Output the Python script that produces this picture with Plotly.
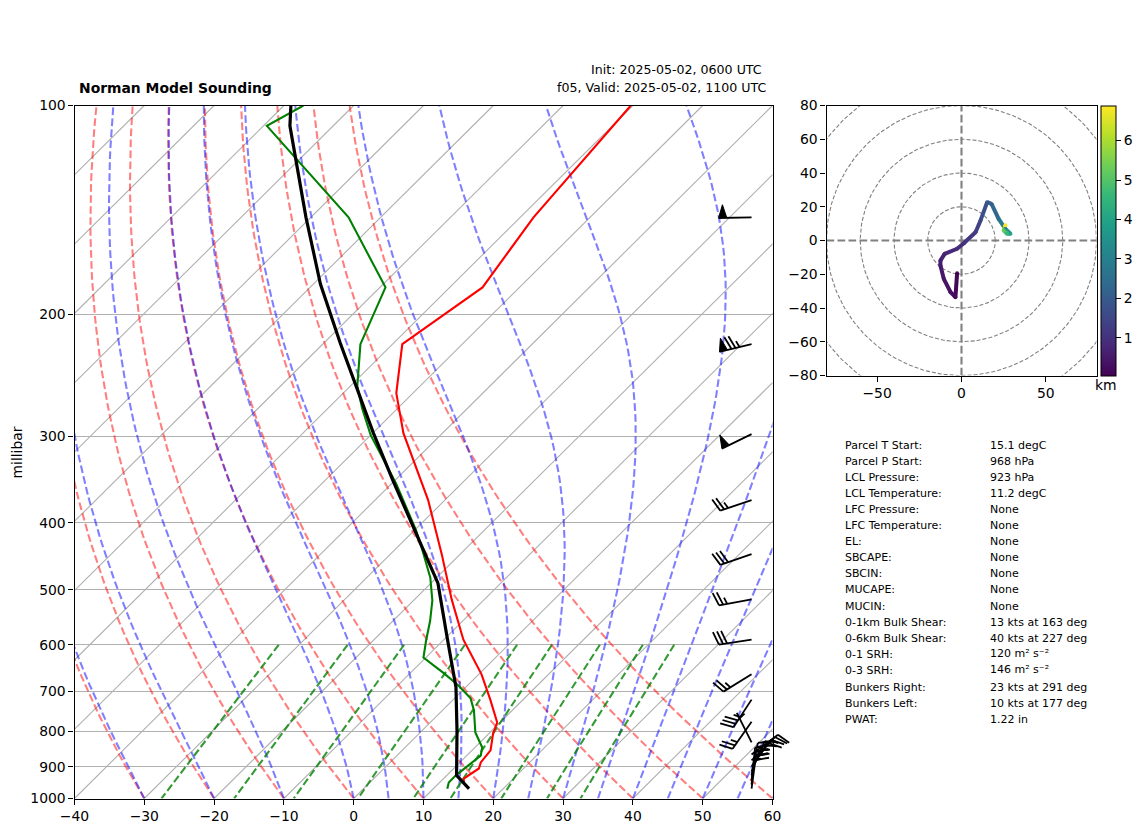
import numpy as np
import plotly.graph_objects as go
from plotly.colors import sample_colorscale

# sounding
temp_p = [100, 145, 183, 221, 260, 297, 371, 444, 516, 590, 662, 720, 777, 806, 852, 887, 905, 920, 936, 951, 968]
temp_c = [-60.3, -58.1, -55.3, -58.6, -52.4, -45.6, -32.4, -22.65, -14.7, -7.2, 0.4, 5.3, 9.6, 10.6, 12.65, 13.0, 13.6, 13.2, 12.9, 13.6, 15.1]

dewp_p = [100, 107, 145, 183, 221, 254, 273, 299, 351, 410, 435, 480, 518, 554, 592, 626, 660, 687, 717, 746, 803, 844, 867, 896, 926, 948, 968]
dewp_c = [-107.2, -109.5, -84.6, -69.2, -64.6, -59.0, -55.2, -50.0, -39.4, -29.8, -26.4, -20.9, -17.3, -14.7, -12.4, -10.35, -5.1, -1.3, 2.3, 4.5, 7.9, 11.05, 12.0, 11.7, 11.3, 11.3, 12.0]

parcel_p = [100, 107, 145, 181, 220, 258, 297, 348, 406, 489, 592, 691, 798, 926, 968]
parcel_c = [-109.0, -106.2, -90.7, -79.0, -67.7, -58.3, -49.9, -40.2, -30.6, -19.0, -9.3, -1.4, 5.0, 11.4, 15.1]

# wind barbs (kt)
barb_p = [145, 221, 298, 371, 444, 516, 590, 662, 720, 775, 830, 864, 881, 899, 914, 926, 942, 955, 968]
barb_u = [50, 73, 45, 23.6, 28.4, 24.6, 29.7, 21.3, 19, 14, 1.2, -8, -10.6, -11, -10, -6, -3.6, -3, -2.6]
barb_v = [1, 17.7, 22, 8, 9.8, 4.5, 4.4, 13.1, 29, 20, -2.4, -6, -10.6, -15, -23, -31, -33.6, -26, -19.4]

# hodograph
hodo_u = [-2.6, -3.6, -6.5, -10.5, -12.5, -12.5, -10, -2.6, 1.4, 8.3, 11.3, 15.2, 17.8, 22, 26, 29, 27, 25, 26]
hodo_v = [-19.4, -33.6, -30.6, -22.7, -14.8, -11.9, -7.9, -4.9, -1.6, 4.9, 11.9, 22.7, 21.7, 12.8, 6.9, 4, 4, 6, 9]
hodo_h = [0.06, 0.25, 0.35, 0.45, 0.55, 0.62, 0.72, 0.9, 1.0, 1.3, 1.5, 1.9, 2.1, 2.6, 3.2, 3.9, 4.6, 5.2, 6.89]
hodo_rings = [20, 40, 60, 80, 100]

# background lines
isobars = [100, 200, 300, 400, 500, 600, 700, 800, 900, 1000]
isotherms = list(range(-140, 70, 10))
dry_theta = list(range(-30, 70, 10))
moist_t0 = [-30, -20, -10, 0, 5, 10, 15, 20, 25, 30, 35, 40, 45, 50, 55, 60]
mixing_w = [0.0004, 0.001, 0.002, 0.004, 0.007, 0.01, 0.016, 0.024, 0.032]

stat_names = ["Parcel T Start:", "Parcel P Start:", "LCL Pressure:", "LCL Temperature:", "LFC Pressure:",
              "LFC Temperature:", "EL:", "SBCAPE:", "SBCIN:", "MUCAPE:", "MUCIN:", "0-1km Bulk Shear:",
              "0-6km Bulk Shear:", "0-1 SRH:", "0-3 SRH:", "Bunkers Right:", "Bunkers Left:", "PWAT:"]
stat_vals = ["15.1 degC", "968 hPa", "923 hPa", "11.2 degC", "None", "None", "None", "None", "None", "None", "None",
             "13 kts at 163 deg", "40 kts at 227 deg", "120 m² s⁻²", "146 m² s⁻²", "23 kts at 291 deg",
             "10 kts at 177 deg", "1.22 in"]
stat_y = [445, 461, 477, 493, 509, 525, 541, 557, 573, 589.5, 606, 622, 638, 654.5, 670.5, 687, 703, 719]
val_y = [445, 461, 477, 493, 509, 525, 541, 557, 573, 589.5, 606, 622, 638, 653, 669, 687, 703, 719]

OFF = 8  # the page puts a margin of 8 px around the figure
W, H = 1142 - OFF, 832 - OFF
PX_PER_C = 6.98
PX_PER_DEC = 693.0
SKEW = 100.0
FONT = "DejaVu Sans"


def fx(px):
    return (px - OFF) / W


def fy(py):
    return 1 - (py - OFF) / H


def skew_x(t, p):
    return np.asarray(t, dtype=float) + SKEW * np.log10(1000.0 / np.asarray(p, dtype=float))


def joined(curves):
    xs, ys = [], []
    for cx, cy in curves:
        xs += list(cx) + [None]
        ys += list(cy) + [None]
    return xs, ys


def moist_curve(t0, levels):
    Rd, cp, Lv, eps = 287.05, 1005.0, 2.501e6, 0.622

    def slope(t, p):
        es = 6.112 * np.exp(17.67 * (t - 273.15) / (t - 29.65))
        rs = eps * es / (p - es)
        return (Rd * t + Lv * rs) / (cp + Lv * Lv * rs * eps / (Rd * t * t))

    t = t0 + 273.15
    out = [t]
    for a, b in zip(levels[:-1], levels[1:]):
        dl = np.log(b / a)
        k1 = slope(t, a)
        k2 = slope(t + k1 * dl / 2, a * np.exp(dl / 2))
        t = t + k2 * dl
        out.append(t)
    return np.array(out) - 273.15


def barb_parts(p, u, v, tip_x=57.0, length=33.0):
    lines, flags = [], []
    speed = np.hypot(u, v)
    s = np.array([-u, -v]) / speed
    f = np.array([s[1], -s[0]])
    spacing, height, width = 0.125 * length, 0.4 * length, 0.25 * length

    def to_data(a, b):
        dx, dy = a * s + b * f
        return tip_x + dx / PX_PER_C, p * 10 ** (-dy / PX_PER_DEC)

    def path(points):
        pts = [to_data(a, b) for a, b in points]
        return [q[0] for q in pts], [q[1] for q in pts]

    mag = 5 * np.floor(speed / 5 + 0.5)
    nflag = int(mag // 50)
    nbarb = int((mag - 50 * nflag) // 10)
    half = mag - 50 * nflag - 10 * nbarb >= 5
    lines.append(path([(0, 0), (length, 0)]))
    off = length
    for i in range(nflag):
        if off != length:
            off += spacing / 2
        flags.append(path([(off, 0), (off - width / 2, height), (off - width, 0)]))
        off -= width + spacing
    for i in range(nbarb):
        lines.append(path([(off, 0), (off + width / 2, height)]))
        off -= spacing
    if half:
        if off == length:
            off -= 1.5 * spacing
        lines.append(path([(off, 0), (off + width / 4, height / 2)]))
    return lines, flags


fig = go.Figure()
DASH = "7.7px,3.3px"
plevels = np.geomspace(1000, 100, 80)

# isotherms
xs, ys = joined([(skew_x([t, t], [1000, 100]), [1000, 100]) for t in isotherms])
fig.add_trace(go.Scatter(x=xs, y=ys, mode="lines", line=dict(color="#b0b0b0", width=1.1), hoverinfo="skip"))

# dry adiabats
curves = []
for th in dry_theta:
    t = (th + 273.15) * (plevels / 1000.0) ** 0.2857 - 273.15
    curves.append((skew_x(t, plevels), plevels))
xs, ys = joined(curves)
fig.add_trace(go.Scatter(x=xs, y=ys, mode="lines", line=dict(color="rgba(255,0,0,0.5)", width=2.08, dash=DASH)))

# moist adiabats
curves = []
for t0 in moist_t0:
    curves.append((skew_x(moist_curve(t0, plevels), plevels), plevels))
xs, ys = joined(curves)
fig.add_trace(go.Scatter(x=xs, y=ys, mode="lines", line=dict(color="rgba(0,0,255,0.5)", width=2.08, dash=DASH)))

# mixing ratio lines
mix_p = np.linspace(600, 1000, 20)
curves = []
for w in mixing_w:
    e = np.log(w * mix_p / (0.622 + w) / 6.112)
    td = 243.5 * e / (17.67 - e)
    curves.append((skew_x(td, mix_p), mix_p))
xs, ys = joined(curves)
fig.add_trace(go.Scatter(x=xs, y=ys, mode="lines", line=dict(color="rgba(0,128,0,0.8)", width=2.08, dash=DASH)))

# profiles
fig.add_trace(go.Scatter(x=skew_x(temp_c, temp_p), y=temp_p, mode="lines", line=dict(color="red", width=2.1)))
fig.add_trace(go.Scatter(x=skew_x(dewp_c, dewp_p), y=dewp_p, mode="lines", line=dict(color="green", width=2.1)))
fig.add_trace(go.Scatter(x=skew_x(parcel_c, parcel_p), y=parcel_p, mode="lines", line=dict(color="black", width=3.2)))

# barbs go on their own hidden axes, wider than the main box because they stick out to the right
all_lines, all_flags = [], []
for p, u, v in zip(barb_p, barb_u, barb_v):
    ln, fl = barb_parts(p, u, v)
    all_lines += ln
    all_flags += fl
xs, ys = joined(all_lines)
fig.add_trace(go.Scatter(x=xs, y=ys, xaxis="x3", yaxis="y3", mode="lines", line=dict(color="black", width=1.8)))
xs, ys = joined(all_flags)
fig.add_trace(go.Scatter(x=xs, y=ys, xaxis="x3", yaxis="y3", mode="lines", fill="toself", fillcolor="black",
                         line=dict(color="black", width=1)))

# hodograph
ang = np.linspace(0, 2 * np.pi, 241)
xs, ys = joined([(r * np.cos(ang), r * np.sin(ang)) for r in hodo_rings])
fig.add_trace(go.Scatter(x=xs, y=ys, xaxis="x2", yaxis="y2", mode="lines",
                         line=dict(color="gray", width=1.1, dash="4px,2px")))
xs, ys = joined([([-80, 80], [0, 0]), ([0, 0], [-80, 80])])
fig.add_trace(go.Scatter(x=xs, y=ys, xaxis="x2", yaxis="y2", mode="lines",
                         line=dict(color="gray", width=2.1, dash="7.7px,3.3px")))
cmin, cmax = 0.04, 6.89
fracs = [(0.5 * (a + b) - cmin) / (cmax - cmin) for a, b in zip(hodo_h[:-1], hodo_h[1:])]
seg_colors = sample_colorscale("Viridis", fracs)
for i, col in enumerate(seg_colors):
    fig.add_trace(go.Scatter(x=hodo_u[i:i + 2], y=hodo_v[i:i + 2], xaxis="x2", yaxis="y2", mode="lines",
                             line=dict(color=col, width=4)))
fig.add_trace(go.Scatter(x=hodo_u, y=hodo_v, xaxis="x2", yaxis="y2", mode="markers",
                         marker=dict(size=4, color=hodo_h, colorscale="Viridis", cmin=cmin, cmax=cmax,
                                     showscale=True,
                                     colorbar=dict(x=fx(1100.5), xanchor="left", y=fy(105.5), yanchor="top",
                                                   len=270 / H, lenmode="fraction", thickness=14.5,
                                                   thicknessmode="pixels", xpad=0, ypad=0,
                                                   tickvals=[1, 2, 3, 4, 5, 6], ticks="outside", ticklen=5,
                                                   tickcolor="black", outlinecolor="black", outlinewidth=1,
                                                   tickfont=dict(family=FONT, size=13.9, color="black")))))

axis_style = dict(showline=True, mirror=True, linecolor="black", linewidth=1.1, ticks="outside", ticklen=5,
                  tickwidth=1.1, tickcolor="black", tickfont=dict(family=FONT, size=13.9, color="black"),
                  zeroline=False)

fig.update_layout(
    width=W, height=H, autosize=False, showlegend=False, plot_bgcolor="rgba(0,0,0,0)", paper_bgcolor="white",
    margin=dict(l=0, r=0, t=0, b=0, autoexpand=False), hovermode=False,
    font=dict(family=FONT, color="black"),
    xaxis=dict(domain=[fx(74.5), fx(772.5)], range=[-40, 60], tickvals=list(range(-40, 70, 10)), showgrid=False,
               anchor="y", **axis_style),
    yaxis=dict(domain=[fy(798.5), fy(105.5)], type="log", range=[3, 2], tickvals=isobars,
               ticktext=[str(p) for p in isobars], showgrid=True, gridcolor="#b0b0b0", gridwidth=1.1,
               anchor="x", **axis_style),
    xaxis2=dict(domain=[fx(826.5), fx(1096.5)], range=[-80, 80], tickvals=[-50, 0, 50], showgrid=False, anchor="y2",
                **axis_style),
    yaxis2=dict(domain=[fy(375.5), fy(105.5)], range=[-80, 80], tickvals=list(range(-80, 100, 20)), showgrid=False,
                anchor="x2", **axis_style),
    xaxis3=dict(domain=[fx(74.5), fx(812.5)], range=[-40, -40 + 738 / PX_PER_C], visible=False, anchor="y3"),
    yaxis3=dict(domain=[fy(798.5), fy(105.5)], type="log", range=[3, 2], visible=False, anchor="x3"),
)

notes = [
    dict(text="<b>Norman Model Sounding</b>", x=fx(78), y=fy(88), xanchor="left", font=dict(size=13.9)),
    dict(text="Init: 2025-05-02, 0600 UTC", x=fx(762.5), y=fy(70), xanchor="right", font=dict(size=12.6)),
    dict(text="f05, Valid: 2025-05-02, 1100 UTC", x=fx(766.5), y=fy(88), xanchor="right", font=dict(size=12.6)),
    dict(text="millibar", x=fx(16.5), y=fy(453), xanchor="center", textangle=-90, font=dict(size=13.9)),
    dict(text="km", x=fx(1106), y=fy(384.5), xanchor="center", font=dict(size=13.9)),
]
for name, val, yy, vy in zip(stat_names, stat_vals, stat_y, val_y):
    notes.append(dict(text=name, x=fx(844), y=fy(yy), xanchor="left", font=dict(size=11)))
    notes.append(dict(text=val, x=fx(988.5), y=fy(vy), xanchor="left", font=dict(size=11)))
for n in notes:
    fig.add_annotation(xref="paper", yref="paper", showarrow=False, yanchor="middle",
                       borderpad=0, **n)

fig.write_html("out.html")
